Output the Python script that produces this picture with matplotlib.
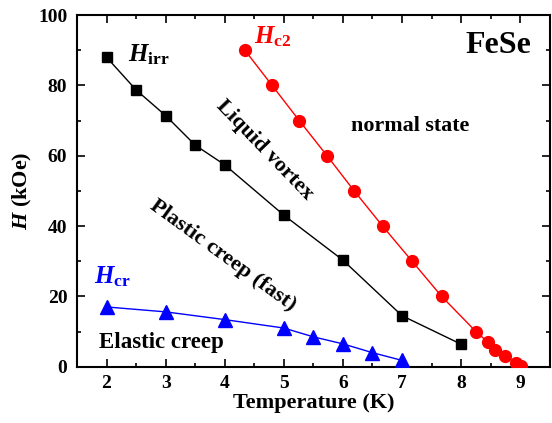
import numpy as np
import matplotlib.pyplot as plt
from matplotlib.ticker import MultipleLocator

plt.rcParams['font.family'] = ['Liberation Serif', 'DejaVu Serif']
plt.rcParams['font.weight'] = 'bold'
plt.rcParams['mathtext.fontset'] = 'custom'
plt.rcParams['mathtext.rm'] = 'Liberation Serif:bold'
plt.rcParams['mathtext.it'] = 'Liberation Serif:italic:bold'
plt.rcParams['mathtext.bf'] = 'Liberation Serif:bold'

# Hc2 (red circles)
t_c2 = [4.34, 4.80, 5.26, 5.73, 6.19, 6.67, 7.17, 7.67, 8.25, 8.46, 8.58, 8.75, 8.92, 9.02]
h_c2 = [90, 80, 70, 60, 50, 40, 30, 20, 10, 6.9, 4.8, 3.1, 1.1, 0.3]

# Hirr (black squares)
t_irr = [2.0, 2.5, 3.0, 3.5, 4.0, 5.0, 6.0, 7.0, 8.0]
h_irr = [88, 78.7, 71.4, 63, 57.4, 43.1, 30.3, 14.5, 6.4]

# Hcr (blue triangles)
t_cr = [2.0, 3.0, 4.0, 5.0, 5.5, 6.0, 6.5, 7.0]
h_cr = [17.0, 15.6, 13.4, 11.0, 8.5, 6.5, 4.0, 1.8]

fig = plt.figure(figsize=(5.52, 4.23), dpi=100)
ax = fig.add_axes([0.1395, 0.133, 0.8565, 0.8315])

ax.plot(t_c2, h_c2, '-o', color='red', lw=1.0, ms=8.5, zorder=3)
ax.plot(t_irr, h_irr, '-s', color='black', lw=1.0, ms=7.5, zorder=3)
ax.plot(t_cr, h_cr, '-^', color='blue', lw=1.0, ms=9.5, zorder=3)

ax.set_xlim(1.5, 9.5)
ax.set_ylim(0, 100)
ax.xaxis.set_major_locator(MultipleLocator(1))
ax.xaxis.set_minor_locator(MultipleLocator(0.5))
ax.yaxis.set_major_locator(MultipleLocator(20))
ax.yaxis.set_minor_locator(MultipleLocator(10))
ax.tick_params(which='both', direction='in', top=True, right=True, width=1.2)
ax.tick_params(which='major', length=6, labelsize=14)
ax.tick_params(axis='y', which='major', pad=7)
ax.tick_params(axis='x', which='major', pad=6)
ax.tick_params(which='minor', length=3)
for lab in ax.get_xticklabels() + ax.get_yticklabels():
    lab.set_fontweight('bold')
for sp in ax.spines.values():
    sp.set_linewidth(1.5)

ax.set_xlabel('Temperature (K)', fontsize=16, fontweight='bold', labelpad=1)
ax.set_ylabel('$H$ (kOe)', fontsize=16, fontweight='bold', labelpad=3)

ax.text(0.962, 0.955, 'FeSe', transform=ax.transAxes, ha='right', va='top',
        fontsize=23, fontweight='bold')
ax.text(6.14, 68.5, 'normal state', fontsize=15.8, fontweight='bold', ha='left', va='center')
ax.text(1.88, 7, 'Elastic creep', fontsize=16.5, fontweight='bold', ha='left', va='center')
ax.text(4.68, 61.5, 'Liquid vortex', fontsize=16, fontweight='bold', rotation=-46,
        ha='center', va='center', rotation_mode='anchor')
ax.text(3.97, 31.5, 'Plastic creep (fast)', fontsize=16, fontweight='bold', rotation=-36,
        ha='center', va='center', rotation_mode='anchor')

ax.text(2.37, 86.7, r'$H_{\mathrm{irr}}$', fontsize=18, color='black', ha='left', va='baseline')
ax.text(4.5, 91.8, r'$H_{\mathrm{c2}}$', fontsize=18, color='red', ha='left', va='baseline')
ax.text(1.78, 23.8, r'$H_{\mathrm{cr}}$', fontsize=18, color='blue', ha='left', va='baseline')

fig.savefig('out.png', dpi=100)
